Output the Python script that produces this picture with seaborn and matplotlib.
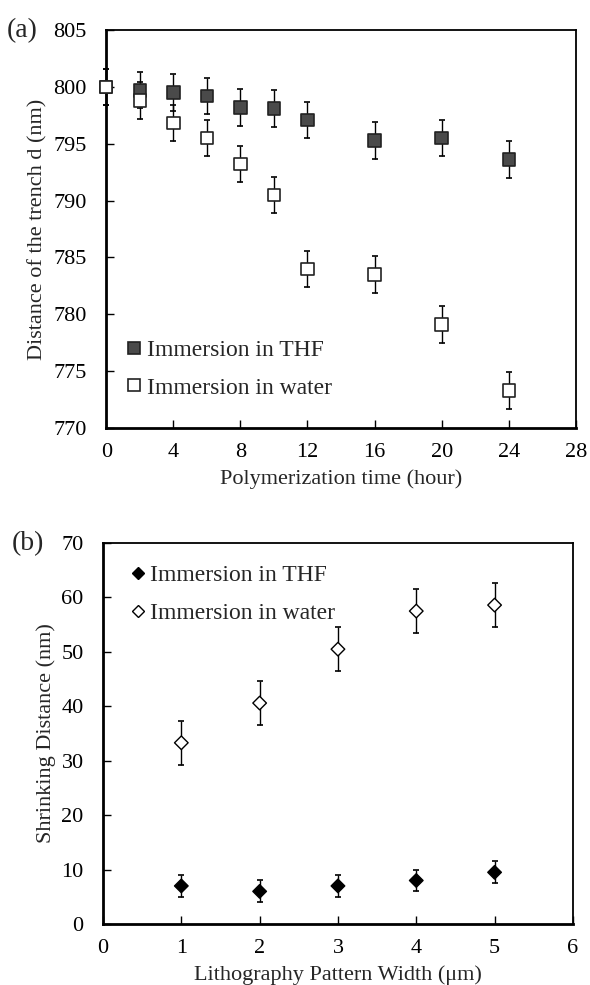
import numpy as np
import pandas as pd
import matplotlib
matplotlib.use("Agg")
import matplotlib.pyplot as plt
import seaborn as sns

# (a) distance of trench vs polymerization time
hours = [0, 2, 4, 6, 8, 10, 12, 16, 20, 24]
thf_dist = [800.0, 799.7, 799.5, 799.2, 798.2, 798.1, 797.1, 795.3, 795.5, 793.6]
water_dist = [800.0, 798.8, 796.8, 795.5, 793.2, 790.5, 784.0, 783.5, 779.1, 773.3]
err_a = 1.6

# (b) shrinking distance vs pattern width
widths = [1, 2, 3, 4, 5]
thf_shrink = [7.0, 6.0, 7.0, 8.0, 9.5]
water_shrink = [33.3, 40.6, 50.5, 57.5, 58.6]
thf_err = [2.0, 2.0, 2.0, 2.0, 2.0]
water_err = [4.0, 4.0, 4.0, 4.0, 4.0]

sns.set_style("ticks")
plt.rcParams['font.family'] = ['Liberation Serif', 'DejaVu Serif']

fig = plt.figure(figsize=(5.9, 9.85), dpi=100)
ax1 = fig.add_axes([0.18, 0.5655, 0.796, 0.404])
ax2 = fig.add_axes([0.1746, 0.0619, 0.7964, 0.3868])

dfa = pd.DataFrame({"x": hours * 2,
                    "y": thf_dist + water_dist,
                    "s": ["Immersion in THF"] * len(hours) + ["Immersion in water"] * len(hours)})

for ys in (thf_dist, water_dist):
    eb = ax1.errorbar(hours, ys, yerr=err_a, fmt="none", ecolor="black", elinewidth=1,
                      capsize=2.5, capthick=1.2, zorder=1)
    for art in eb.get_children():
        art.set_clip_on(False)
sns.scatterplot(data=dfa, x="x", y="y", hue="s", style="s",
                palette={"Immersion in THF": "#4a4a4a", "Immersion in water": "white"},
                markers={"Immersion in THF": "s", "Immersion in water": "s"},
                s=80, edgecolor="#222222", linewidth=1.2, ax=ax1, zorder=3, clip_on=False)

ax1.set_xlim(0, 28)
ax1.set_ylim(770, 805)
ax1.set_xticks(range(0, 29, 4))
ax1.set_yticks(range(770, 806, 5))
ax1.set_xlabel("Polymerization time (hour)", fontsize=16, labelpad=5)
ax1.set_ylabel("Distance of the trench d (nm)", fontsize=16, labelpad=4)
ax1.legend(loc="upper left", bbox_to_anchor=(0.045, 0.222), frameon=False, fontsize=17,
           handlelength=0.6, handletextpad=0.25, markerscale=0.9, labelspacing=0.68,
           borderpad=0, borderaxespad=0)

dfb = pd.DataFrame({"x": widths * 2,
                    "y": thf_shrink + water_shrink,
                    "s": ["Immersion in THF"] * len(widths) + ["Immersion in water"] * len(widths)})
ax2.errorbar(widths, thf_shrink, yerr=thf_err, fmt="none", ecolor="black", elinewidth=1,
             capsize=2.5, capthick=1.2, zorder=1)
ax2.errorbar(widths, water_shrink, yerr=water_err, fmt="none", ecolor="black", elinewidth=1,
             capsize=2.5, capthick=1.2, zorder=1)
sns.scatterplot(data=dfb, x="x", y="y", hue="s", style="s",
                palette={"Immersion in THF": "black", "Immersion in water": "white"},
                markers={"Immersion in THF": "D", "Immersion in water": "D"},
                s=48, edgecolor="black", linewidth=1.0, ax=ax2, zorder=3)
ax2.set_xlim(0, 6)
ax2.set_ylim(0, 70)
ax2.set_xticks(range(0, 7))
ax2.set_yticks(range(0, 71, 10))
ax2.set_xlabel("Lithography Pattern Width (μm)", fontsize=16, labelpad=5)
ax2.set_ylabel("Shrinking Distance (nm)", fontsize=16, labelpad=4)
ax2.legend(loc="upper left", bbox_to_anchor=(0.059, 0.943), frameon=False, fontsize=17,
           handlelength=0.6, handletextpad=0.2, markerscale=0.9, labelspacing=0.68,
           borderpad=0, borderaxespad=0)

for ax in (ax1, ax2):
    ax.tick_params(direction="in", length=6, width=1, labelsize=16, top=False, right=False, colors="black")
    ax.tick_params(axis="x", pad=11)
    ax.tick_params(axis="y", pad=14)
    for sp in ax.spines.values():
        sp.set_visible(True)
        sp.set_color("black")
        sp.set_linewidth(1.3)
    ax.spines["left"].set_linewidth(2.0)
    ax.spines["bottom"].set_linewidth(2.0)

fig.text(0.012, 0.9817, "(a)", fontsize=20, va="top")
fig.text(0.02, 0.461, "(b)", fontsize=20, va="top")

fig.savefig("out.png", dpi=100)
